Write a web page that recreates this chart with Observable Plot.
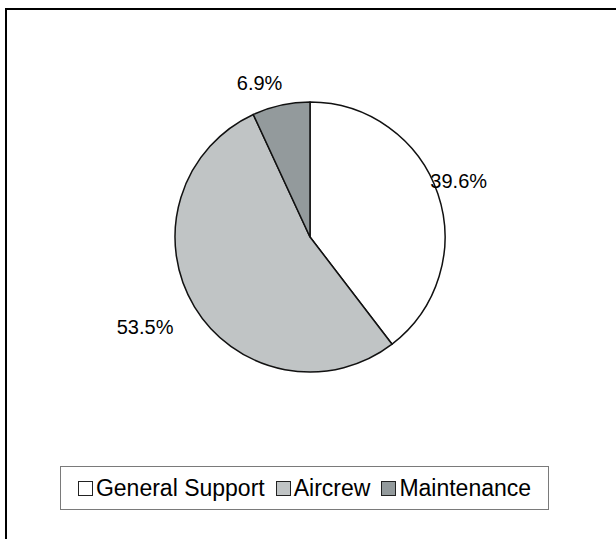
<!DOCTYPE html>
<html>
<head>
<meta charset="utf-8">
<script src="https://cdn.jsdelivr.net/npm/d3@7"></script>
<script src="https://cdn.jsdelivr.net/npm/@observablehq/plot@0.6"></script>
<style>
  html, body { margin: 0; padding: 0; background: #fff; overflow: hidden; }
  body { width: 616px; height: 539px; position: relative; font-family: "Liberation Sans", Arial, sans-serif; }
  #frame { position: absolute; left: 5px; top: 8px; width: 700px; height: 700px;
           border: 2px solid #000; box-sizing: border-box; }
  #chart { position: absolute; left: 0; top: 0; }
  #legend { position: absolute; left: 60px; top: 466px; width: 489px; height: 44px; box-sizing: border-box;
            border: 1.5px solid #7a7a7a; display: flex; align-items: center; justify-content: center;
            font-size: 23px; color: #000; gap: 11px; }
  .item { display: flex; align-items: center; gap: 3px; }
  .sw { width: 13px; height: 13px; border: 1.5px solid #222; }
</style>
</head>
<body>
<div id="frame"></div>
<div id="chart"></div>
<div id="legend"></div>
<script>
// Staffing shares by function
const categories = ["General Support", "Aircrew", "Maintenance"];
const shares = [39.6, 53.5, 6.9];
const colors = ["#ffffff", "#c0c4c5", "#939a9c"];

const rows = categories.map((name, i) => ({name, value: shares[i], color: colors[i]}));

// Slice angles, clockwise from 12 o'clock, in data order
const arcs = d3.pie().sort(null).value(d => d.value)(rows);

const fontSize = 20;
const ctx = document.createElement("canvas").getContext("2d");
ctx.font = `${fontSize}px "Liberation Sans"`;

// Unit radius in data space; label centres sit just outside the rim
const radiusPx = 135;
const labels = arcs.map(a => {
  const mid = (a.startAngle + a.endAngle) / 2;
  const sx = Math.sin(mid), sy = Math.cos(mid);
  const text = a.data.value.toFixed(1) + "%";
  const halfW = ctx.measureText(text).width / 2, halfH = fontSize * 0.4;
  const reach = radiusPx + 10 + Math.abs(sx) * halfW + Math.abs(sy) * halfH;
  const k = reach / radiusPx;
  return {x: sx * k, y: sy * k, text};
});

const cx = 310, cy = 237;

const pie = (index, scales) => {
  const r = scales.x(1) - scales.x(0);
  const x0 = scales.x(0), y0 = scales.y(0);
  const g = d3.create("svg:g").attr("transform", `translate(${x0},${y0})`);
  const arcGen = d3.arc().innerRadius(0).outerRadius(r);
  g.selectAll("path").data(arcs).join("path")
    .attr("d", arcGen)
    .attr("fill", d => d.data.color)
    .attr("stroke", "#111")
    .attr("stroke-width", 1.5)
    .attr("stroke-linejoin", "round");
  return g.node();
};

const chart = Plot.plot({
  width: 616,
  height: 460,
  margin: 0,
  style: {background: "transparent", overflow: "visible"},
  x: {domain: [-1, 1], range: [cx - radiusPx, cx + radiusPx], axis: null},
  y: {domain: [-1, 1], range: [cy + radiusPx, cy - radiusPx], axis: null},
  marks: [
    pie,
    Plot.text(labels, {
      x: "x", y: "y", text: "text",
      fontSize, fill: "#000",
      fontFamily: "Liberation Sans, Arial, sans-serif",
      textAnchor: "middle", lineAnchor: "middle",
      dx: -17
    })
  ]
});
document.getElementById("chart").appendChild(chart);

// Legend swatches built from the same categories and colours
const legend = d3.select("#legend");
rows.forEach(d => {
  const item = legend.append("div").attr("class", "item");
  item.append("div").attr("class", "sw").style("background", d.color);
  item.append("span").text(d.name);
});
</script>
</body>
</html>
